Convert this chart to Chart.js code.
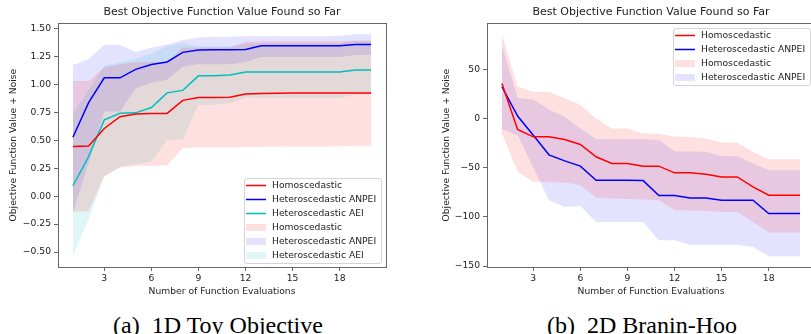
<!DOCTYPE html>
<html>
<head>
<meta charset="utf-8">
<script src="https://cdn.jsdelivr.net/npm/chart.js@4.4.1/dist/chart.umd.min.js"></script>
<style>
  html, body { margin: 0; padding: 0; background: #fff; }
  body { width: 811px; height: 334px; overflow: hidden; position: relative; }
  .plot { position: absolute; top: 0; }
  #left { left: 0; }
  #right { left: 400px; }
  .caption {
    position: absolute; top: 311px; transform: translateX(-50%);
    font-family: 'Liberation Serif', 'Times New Roman', serif; font-size: 24px;
    line-height: 28px; color: #000; white-space: pre;
  }
</style>
</head>
<body>
<div class="plot" id="left"><canvas id="toy" width="400" height="300"></canvas></div>
<div class="plot" id="right"><canvas id="branin" width="430" height="300"></canvas></div>
<div class="caption" style="left:218px">(a)  1D Toy Objective</div>
<div class="caption" style="left:642px">(b)  2D Branin-Hoo</div>
<script>
// evaluations 1..20, shared by both panels
const evals = [1, 2, 3, 4, 5, 6, 7, 8, 9, 10, 11, 12, 13, 14, 15, 16, 17, 18, 19, 20];
const xTicks = [3, 6, 9, 12, 15, 18];

// (a) 1D toy objective
const toyHomo = [0.443, 0.449, 0.605, 0.71, 0.735, 0.74, 0.74, 0.857, 0.883, 0.883, 0.885, 0.914, 0.917, 0.92, 0.922, 0.922, 0.922, 0.922, 0.922, 0.922];
const toyAnpei = [0.527, 0.836, 1.058, 1.058, 1.134, 1.178, 1.2, 1.286, 1.307, 1.31, 1.31, 1.312, 1.345, 1.345, 1.345, 1.345, 1.345, 1.345, 1.357, 1.357];
const toyAei = [0.093, 0.354, 0.682, 0.741, 0.745, 0.793, 0.924, 0.946, 1.076, 1.078, 1.083, 1.11, 1.11, 1.11, 1.11, 1.11, 1.11, 1.11, 1.128, 1.128];
const toyHomoHi = [1.03, 1.03, 1.15, 1.18, 1.2, 1.2, 1.2, 1.33, 1.33, 1.33, 1.33, 1.38, 1.385, 1.385, 1.385, 1.385, 1.385, 1.385, 1.39, 1.39];
const toyHomoLo = [-0.137, -0.137, 0.175, 0.255, 0.27, 0.27, 0.274, 0.43, 0.437, 0.437, 0.437, 0.44, 0.44, 0.442, 0.445, 0.445, 0.445, 0.447, 0.449, 0.449];
const toyAnpeiHi = [1.173, 1.226, 1.351, 1.351, 1.289, 1.327, 1.357, 1.396, 1.42, 1.425, 1.425, 1.43, 1.43, 1.43, 1.43, 1.43, 1.43, 1.435, 1.448, 1.448];
const toyAnpeiLo = [-0.15, 0.3, 0.756, 0.756, 0.964, 1.015, 1.04, 1.158, 1.18, 1.18, 1.18, 1.2, 1.245, 1.245, 1.245, 1.245, 1.245, 1.245, 1.262, 1.262];
const toyAeiHi = [0.74, 0.95, 1.167, 1.196, 1.23, 1.277, 1.34, 1.372, 1.34, 1.34, 1.34, 1.36, 1.37, 1.37, 1.37, 1.37, 1.37, 1.37, 1.39, 1.39];
const toyAeiLo = [-0.535, -0.21, 0.18, 0.262, 0.285, 0.31, 0.503, 0.509, 0.815, 0.815, 0.83, 0.88, 0.88, 0.88, 0.88, 0.88, 0.88, 0.88, 0.905, 0.905];
const toyYTicks = [-0.5, -0.25, 0, 0.25, 0.5, 0.75, 1, 1.25, 1.5];

// (b) 2D Branin-Hoo
const braninHomo = [35.6, -11.2, -18.7, -18.7, -21.4, -26.5, -39, -45.8, -45.8, -48.5, -48.5, -55.3, -55.3, -56.7, -59.4, -59.4, -69.6, -78, -78, -78];
const braninAnpei = [32.2, 2.4, -17, -37, -43.1, -48.5, -62.8, -62.8, -62.8, -63.2, -78.4, -78.4, -80.8, -80.8, -83.2, -83.2, -83.2, -96.7, -96.7, -96.7];
const braninHomoHi = [85.5, 32.2, 27.2, 27.2, 20.4, 13.6, 0, -10.2, -10.2, -15.3, -15.6, -18.3, -18.8, -20.4, -24.4, -24.4, -34, -41.4, -41.4, -41.4];
const braninHomoLo = [-15.3, -54.3, -64.5, -64.5, -65.2, -67.9, -80.4, -81.5, -82, -82.5, -83.2, -93.3, -93.5, -94, -95, -95, -105.2, -116, -116, -116];
const braninAnpeiHi = [74.7, 21, 19.3, 9.2, 1.7, -10.2, -21, -21, -21, -21, -22, -33.3, -33.5, -33.9, -38.4, -38.4, -45.8, -52.6, -52.6, -52.6];
const braninAnpeiLo = [-10.9, -17, -50, -83.2, -90, -89, -105.2, -105.2, -105.2, -105.2, -123.9, -123.9, -128.3, -128.3, -128.3, -128.3, -130.7, -140, -140, -140];
const braninYTicks = [-150, -100, -50, 0, 50];

const RED = '#ff0000', BLUE = '#0000ff', CYAN = '#00bfbf';
const RED_FILL = 'rgba(255,0,0,0.12)', BLUE_FILL = 'rgba(0,0,255,0.11)', CYAN_FILL = 'rgba(0,191,191,0.12)';
const FONT = 'DejaVu Sans';
const TXT = '#222';
const SPINE = '#666';

const pts = (ys) => evals.map((x, i) => ({ x, y: ys[i] }));

function lineSet(label, ys, color) {
  return { label, data: pts(ys), borderColor: color, borderWidth: 1.5, pointRadius: 0, fill: false, order: 0 };
}

function bandSets(label, lo, hi, fillColor) {
  return [
    { label: label + ' lo', data: pts(lo), borderColor: 'transparent', borderWidth: 0, pointRadius: 0, fill: false, order: 1 },
    { label, data: pts(hi), borderColor: 'transparent', borderWidth: 0, pointRadius: 0, backgroundColor: fillColor, fill: '-1', order: 1 },
  ];
}

const minus = (s) => s.replace('-', '\u2212');

// four spines round the plot area
const frame = {
  id: 'frame',
  afterDatasetsDraw(chart) {
    const { ctx, chartArea: a } = chart;
    ctx.save();
    ctx.strokeStyle = SPINE;
    ctx.lineWidth = 1;
    ctx.strokeRect(Math.round(a.left) + 0.5, Math.round(a.top) + 0.5, Math.round(a.right - a.left), Math.round(a.bottom - a.top));
    ctx.restore();
  },
};

// matplotlib-like legend box inside the axes
const boxLegend = {
  id: 'boxLegend',
  afterDraw(chart, args, opts) {
    const { ctx, chartArea: a } = chart;
    const items = opts.items || [];
    ctx.save();
    ctx.font = `9.2px "${FONT}"`;
    const textW = Math.max(...items.map((it) => ctx.measureText(it.text).width));
    const rowH = 14, pad = 7.5;
    const w = 28 + textW + 5;
    const h = pad * 2 + rowH * (items.length - 1);
    const x = Math.round(a.right - 5 - w);
    const y = Math.round(opts.corner === 'lower' ? a.bottom - 4 - h : a.top + 5);
    ctx.fillStyle = 'rgba(255,255,255,0.8)';
    ctx.strokeStyle = '#d4d4d4';
    ctx.lineWidth = 1;
    ctx.beginPath();
    ctx.roundRect(x + 0.5, y + 0.5, w, h, 2.5);
    ctx.fill();
    ctx.stroke();
    ctx.textBaseline = 'middle';
    ctx.textAlign = 'left';
    items.forEach((it, i) => {
      const cy = y + pad + i * rowH;
      if (it.kind === 'line') {
        ctx.strokeStyle = it.color;
        ctx.lineWidth = 1.5;
        ctx.beginPath();
        ctx.moveTo(x + 2, cy);
        ctx.lineTo(x + 22, cy);
        ctx.stroke();
      } else {
        ctx.fillStyle = it.color;
        ctx.fillRect(x + 2, cy - 3.5, 20, 7);
      }
      ctx.fillStyle = TXT;
      ctx.fillText(it.text, x + 28, cy + 0.5);
    });
    ctx.restore();
  },
};

function makeChart(canvas, cfg) {
  return new Chart(canvas, {
    type: 'line',
    data: { datasets: cfg.datasets },
    plugins: [frame, boxLegend],
    options: {
      responsive: false,
      animation: false,
      layout: { padding: { left: cfg.padLeft, right: cfg.padRight, top: 0, bottom: 0 } },
      plugins: {
        legend: { display: false },
        tooltip: { enabled: false },
        title: {
          display: true,
          fullSize: false,
          text: 'Best Objective Function Value Found so Far',
          color: TXT,
          font: { family: FONT, size: 11, weight: 'normal' },
          padding: { top: 6, bottom: 4 },
        },
        boxLegend: { items: cfg.legend, corner: cfg.corner },
      },
      scales: {
        x: {
          type: 'linear',
          min: 0.05,
          max: 20.95,
          afterBuildTicks: (s) => { s.ticks = xTicks.map((v) => ({ value: v })); },
          afterFit: (s) => { s.height = 33; },
          border: { display: false },
          grid: { drawOnChartArea: false, drawTicks: true, tickLength: 4, color: SPINE },
          ticks: { color: TXT, font: { family: FONT, size: 9.2 }, padding: 2, maxRotation: 0 },
          title: {
            display: true,
            text: 'Number of Function Evaluations',
            color: TXT,
            font: { family: FONT, size: 9.2 },
            padding: { top: 0, bottom: 3 },
          },
        },
        y: {
          min: cfg.yMin,
          max: cfg.yMax,
          afterBuildTicks: (s) => { s.ticks = cfg.yTicks.map((v) => ({ value: v })); },
          afterFit: (s) => { s.width = cfg.yWidth; },
          border: { display: false },
          grid: { drawOnChartArea: false, drawTicks: true, tickLength: 4, color: SPINE },
          ticks: { color: TXT, font: { family: FONT, size: 9.2 }, padding: 3, callback: cfg.yFormat },
          title: {
            display: true,
            text: 'Objective Function Value + Noise',
            color: TXT,
            font: { family: FONT, size: 9.2 },
            padding: { top: 8, bottom: 0 },
          },
        },
      },
    },
  });
}

makeChart(document.getElementById('toy'), {
  datasets: [
    lineSet('Homoscedastic', toyHomo, RED),
    lineSet('Heteroscedastic ANPEI', toyAnpei, BLUE),
    lineSet('Heteroscedastic AEI', toyAei, CYAN),
    ...bandSets('Homoscedastic', toyHomoLo, toyHomoHi, RED_FILL),
    ...bandSets('Heteroscedastic ANPEI', toyAnpeiLo, toyAnpeiHi, BLUE_FILL),
    ...bandSets('Heteroscedastic AEI', toyAeiLo, toyAeiHi, CYAN_FILL),
  ],
  legend: [
    { kind: 'line', color: RED, text: 'Homoscedastic' },
    { kind: 'line', color: BLUE, text: 'Heteroscedastic ANPEI' },
    { kind: 'line', color: CYAN, text: 'Heteroscedastic AEI' },
    { kind: 'patch', color: RED_FILL, text: 'Homoscedastic' },
    { kind: 'patch', color: BLUE_FILL, text: 'Heteroscedastic ANPEI' },
    { kind: 'patch', color: CYAN_FILL, text: 'Heteroscedastic AEI' },
  ],
  corner: 'lower',
  padLeft: 0,
  padRight: 14,
  yWidth: 58,
  yMin: -0.634,
  yMax: 1.547,
  yTicks: toyYTicks,
  yFormat: (v) => minus(Number(v).toFixed(2)),
});

makeChart(document.getElementById('branin'), {
  datasets: [
    lineSet('Homoscedastic', braninHomo, RED),
    lineSet('Heteroscedastic ANPEI', braninAnpei, BLUE),
    ...bandSets('Homoscedastic', braninHomoLo, braninHomoHi, RED_FILL),
    ...bandSets('Heteroscedastic ANPEI', braninAnpeiLo, braninAnpeiHi, BLUE_FILL),
  ],
  legend: [
    { kind: 'line', color: RED, text: 'Homoscedastic' },
    { kind: 'line', color: BLUE, text: 'Heteroscedastic ANPEI' },
    { kind: 'patch', color: RED_FILL, text: 'Homoscedastic' },
    { kind: 'patch', color: BLUE_FILL, text: 'Heteroscedastic ANPEI' },
  ],
  corner: 'upper',
  padLeft: 33,
  padRight: 15,
  yWidth: 54,
  yMin: -151,
  yMax: 96.8,
  yTicks: braninYTicks,
  yFormat: (v) => minus(String(Math.round(v))),
});
</script>
</body>
</html>
